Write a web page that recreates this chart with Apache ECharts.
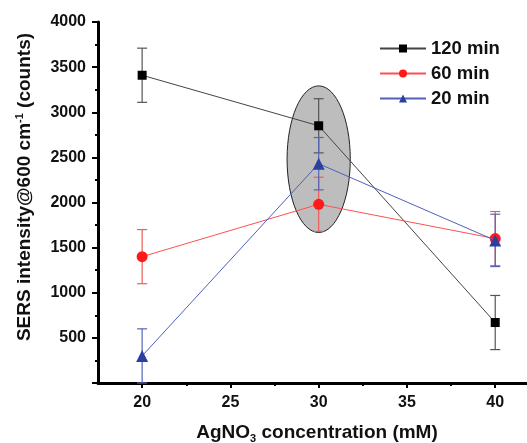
<!DOCTYPE html>
<html>
<head>
<meta charset="utf-8">
<script src="https://cdn.jsdelivr.net/npm/echarts@6/dist/echarts.min.js"></script>
<style>
  html, body { margin: 0; padding: 0; background: #fff; }
  #main { width: 527px; height: 443px; }
</style>
</head>
<body>
<div id="main"></div>
<script>
// AgNO3 concentration (mM)
var concentration = [20, 30, 40];
// SERS intensity at 600 cm-1 for each reaction time
var names = ['120 min', '60 min', '20 min'];
var val120 = [3410, 2850, 670];
var val60 = [1400, 1980, 1600];
var val20 = [300, 2430, 1580];
// error bar half-widths
var err120 = [300, 300, 300];
var err60 = [300, 300, 300];
var err20 = [300, 290, 290];
var xTicks = [20, 25, 30, 35, 40];
var xMinorTicks = [22.5, 27.5, 32.5, 37.5];
// highlighted region around 30 mM: [x, y, halfX, halfY]
var highlight = [[30, 2480, 1.79, 812]];

var chart = echarts.init(document.getElementById('main'));

var font = '"Liberation Sans", Arial, sans-serif';

function pts(vals) {
    return concentration.map(function (c, i) { return [c, vals[i]]; });
}
function bars(vals, errs) {
    return concentration.map(function (c, i) { return [c, vals[i] - errs[i], vals[i] + errs[i]]; });
}

// error bars drawn through the axes
function errSeries(vals, errs, color, z) {
    return {
        type: 'custom',
        z: z,
        silent: true,
        data: bars(vals, errs),
        renderItem: function (params, api) {
            var lo = api.coord([api.value(0), api.value(1)]);
            var hi = api.coord([api.value(0), api.value(2)]);
            var w = 5;
            var st = { stroke: color, lineWidth: 1.2 };
            return {
                type: 'group',
                children: [
                    { type: 'line', shape: { x1: lo[0], y1: lo[1], x2: hi[0], y2: hi[1] }, style: st },
                    { type: 'line', shape: { x1: lo[0] - w, y1: lo[1], x2: lo[0] + w, y2: lo[1] }, style: st },
                    { type: 'line', shape: { x1: hi[0] - w, y1: hi[1], x2: hi[0] + w, y2: hi[1] }, style: st }
                ]
            };
        }
    };
}

var option = {
    backgroundColor: '#fff',
    animation: false,
    grid: { left: 98, right: 0, top: 22, bottom: 60 },
    legend: {
        data: names,
        orient: 'vertical',
        left: 374,
        top: 34,
        itemWidth: 46,
        itemHeight: 10,
        itemGap: 6,
        textStyle: { fontFamily: font, fontSize: 18.5, fontWeight: 'bold', color: '#111' }
    },
    xAxis: [{
        type: 'value',
        min: 17.5,
        max: 41.8,
        axisLine: { lineStyle: { color: '#000', width: 3 } },
        axisTick: { customValues: xTicks, length: 5, lineStyle: { color: '#000', width: 2 } },
        axisLabel: { customValues: xTicks, margin: 12, fontFamily: font, fontSize: 16, fontWeight: 'bold', color: '#111' },
        splitLine: { show: false }
    }, {
        type: 'value',
        position: 'bottom',
        min: 17.5,
        max: 41.8,
        axisLine: { show: false },
        axisTick: { customValues: xMinorTicks, length: 3, lineStyle: { color: '#000', width: 2 } },
        axisLabel: { show: false },
        splitLine: { show: false }
    }],
    yAxis: {
        type: 'value',
        min: 0,
        max: 4000,
        interval: 500,
        axisLine: { show: true, lineStyle: { color: '#000', width: 3 } },
        axisTick: { show: true, length: 6, lineStyle: { color: '#000', width: 2 } },
        minorTick: { show: true, splitNumber: 2, length: 3, lineStyle: { color: '#000', width: 2 } },
        axisLabel: {
            margin: 12, fontFamily: font, fontSize: 16, fontWeight: 'bold', color: '#111',
            formatter: function (v) { return v === 0 ? '' : v; }
        },
        splitLine: { show: false }
    },
    graphic: [{
        type: 'text',
        x: 25, y: 187,
        rotation: Math.PI / 2,
        style: {
            text: '{m|SERS intensity@600 cm}{s|-1}{m| (counts)}',
            align: 'center',
            verticalAlign: 'middle',
            rich: {
                m: { fontFamily: font, fontSize: 19, fontWeight: 'bold', fill: '#111', lineHeight: 22 },
                s: { fontFamily: font, fontSize: 11, fontWeight: 'bold', fill: '#111', lineHeight: 22, verticalAlign: 'top' }
            }
        }
    }, {
        type: 'text',
        x: 317, y: 433,
        style: {
            text: '{m|AgNO}{s|3}{m| concentration (mM)}',
            align: 'center',
            verticalAlign: 'middle',
            rich: {
                m: { fontFamily: font, fontSize: 19, fontWeight: 'bold', fill: '#111', lineHeight: 22 },
                s: { fontFamily: font, fontSize: 11, fontWeight: 'bold', fill: '#111', lineHeight: 22, verticalAlign: 'bottom' }
            }
        }
    }],
    series: [
        {
            type: 'custom',
            z: 0,
            silent: true,
            data: highlight,
            renderItem: function (params, api) {
                var c = api.coord([api.value(0), api.value(1)]);
                var s = api.size([api.value(2), api.value(3)]);
                return {
                    type: 'ellipse',
                    shape: { cx: c[0], cy: c[1], rx: s[0], ry: s[1] },
                    style: { fill: '#bdbdbd', stroke: '#222', lineWidth: 1 }
                };
            }
        },
        errSeries(val120, err120, '#555', 3),
        errSeries(val60, err60, '#f05a5a', 4),
        errSeries(val20, err20, '#5565b5', 5),
        {
            name: names[0], type: 'line', z: 6,
            data: pts(val120),
            symbol: 'rect', symbolSize: 9,
            lineStyle: { color: '#444', width: 1 },
            itemStyle: { color: '#000' }
        },
        {
            name: names[1], type: 'line', z: 7,
            data: pts(val60),
            symbol: 'circle', symbolSize: 11,
            lineStyle: { color: '#ff5050', width: 1 },
            itemStyle: { color: '#ff1a1a' }
        },
        {
            name: names[2], type: 'line', z: 8,
            data: pts(val20),
            symbol: 'triangle', symbolSize: 12,
            lineStyle: { color: '#5060b8', width: 1 },
            itemStyle: { color: '#2a40a0' }
        }
    ]
};

chart.setOption(option);
</script>
</body>
</html>
